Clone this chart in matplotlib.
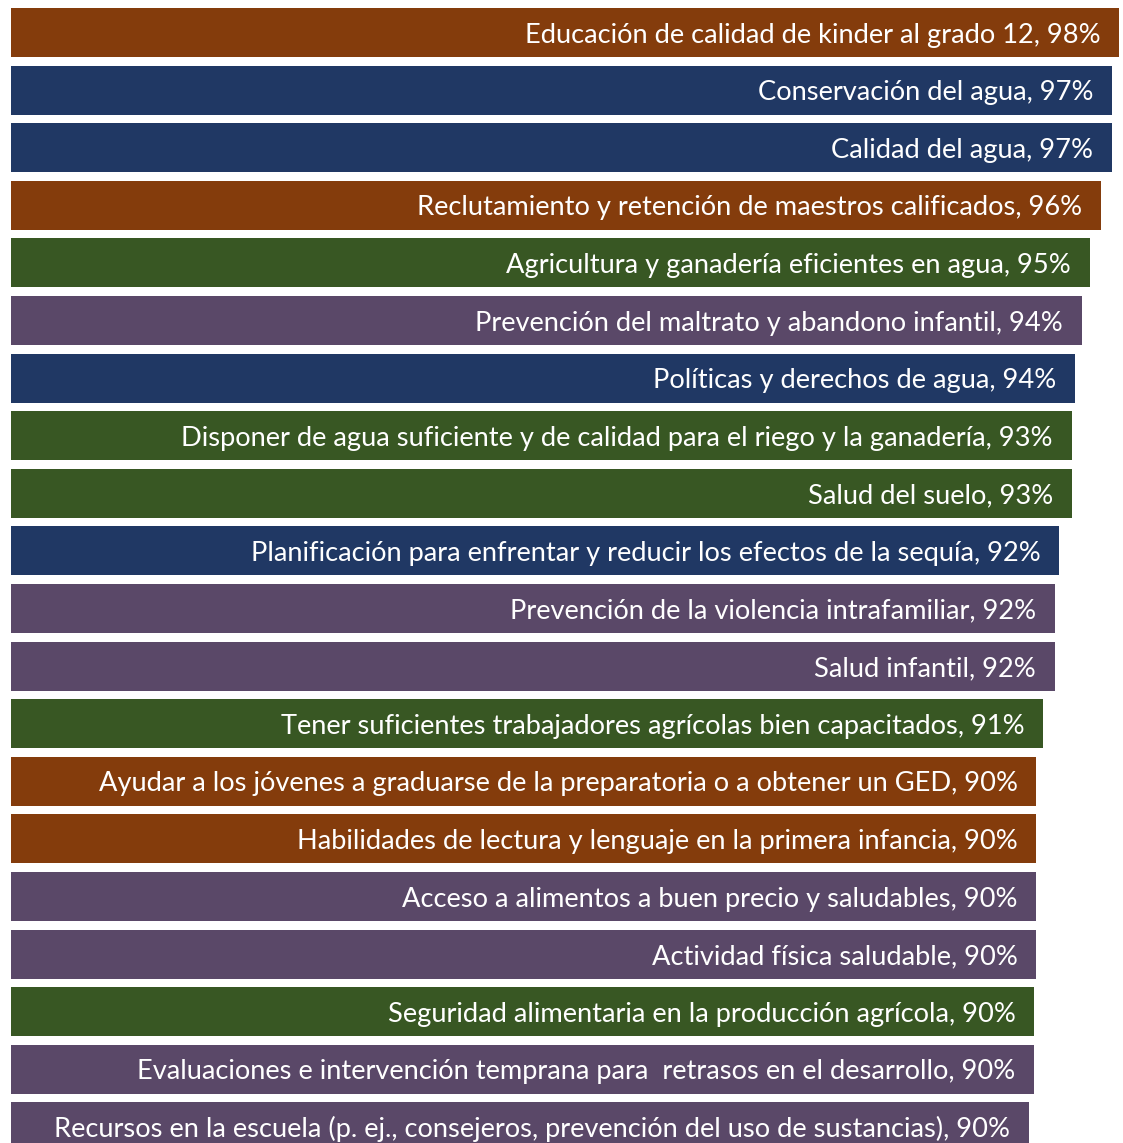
import matplotlib
matplotlib.use("Agg")
from matplotlib import pyplot as plt

# categories, top to bottom
labels = [
    "Educación de calidad de kinder al grado 12",
    "Conservación del agua",
    "Calidad del agua",
    "Reclutamiento y retención de maestros calificados",
    "Agricultura y ganadería eficientes en agua",
    "Prevención del maltrato y abandono infantil",
    "Políticas y derechos de agua",
    "Disponer de agua suficiente y de calidad para el riego y la ganadería",
    "Salud del suelo",
    "Planificación para enfrentar y reducir los efectos de la sequía",
    "Prevención de la violencia intrafamiliar",
    "Salud infantil",
    "Tener suficientes trabajadores agrícolas bien capacitados",
    "Ayudar a los jóvenes a graduarse de la preparatoria o a obtener un GED",
    "Habilidades de lectura y lenguaje en la primera infancia",
    "Acceso a alimentos a buen precio y saludables",
    "Actividad física saludable",
    "Seguridad alimentaria en la producción agrícola",
    "Evaluaciones e intervención temprana para  retrasos en el desarrollo",
    "Recursos en la escuela (p. ej., consejeros, prevención del uso de sustancias)",
]
# shown percentages
pct = [98, 97, 97, 96, 95, 94, 94, 93, 93, 92, 92, 92, 91, 90, 90, 90, 90, 90, 90, 90]
# bar lengths (unrounded)
values = [98.0, 97.4, 97.4, 96.4, 95.4, 94.7, 94.1, 93.8, 93.8, 92.7,
          92.3, 92.3, 91.3, 90.7, 90.7, 90.7, 90.7, 90.5, 90.5, 90.0]
# topic group of each bar
groups = ["edu", "water", "water", "edu", "agri", "health", "water", "agri", "agri", "water",
          "health", "health", "agri", "edu", "edu", "health", "health", "agri", "health", "health"]

colors = {"edu": "#843C0C", "water": "#203864", "agri": "#385723", "health": "#5A4868"}

fig = plt.figure(figsize=(11.23, 11.43), dpi=100)
ax = fig.add_axes([0, 0, 1, 1])

ypos = list(range(len(labels)))
ax.barh(ypos, values, height=0.85, left=0,
        color=[colors[g] for g in groups], edgecolor="none")

for y, v, lab, p in zip(ypos, values, labels, pct):
    ax.annotate(f"{lab}, {p}%", xy=(v, y), xytext=(-13.5, 0), textcoords="offset points",
                ha="right", va="center_baseline", color="white",
                fontsize=19.6, family=["Lato", "DejaVu Sans"])

# pixel mapping: 0 at x=11px, 98 at x=1119px; bar pitch 57.6px, first centre 32.5px
s = 1108 / 98.0
ax.set_xlim(-11 / s, (1123 - 11) / s)
ax.set_ylim((1143 - 32.5) / 57.6, -32.5 / 57.6)
ax.axis("off")

plt.savefig("out.png", dpi=100, format="png")
